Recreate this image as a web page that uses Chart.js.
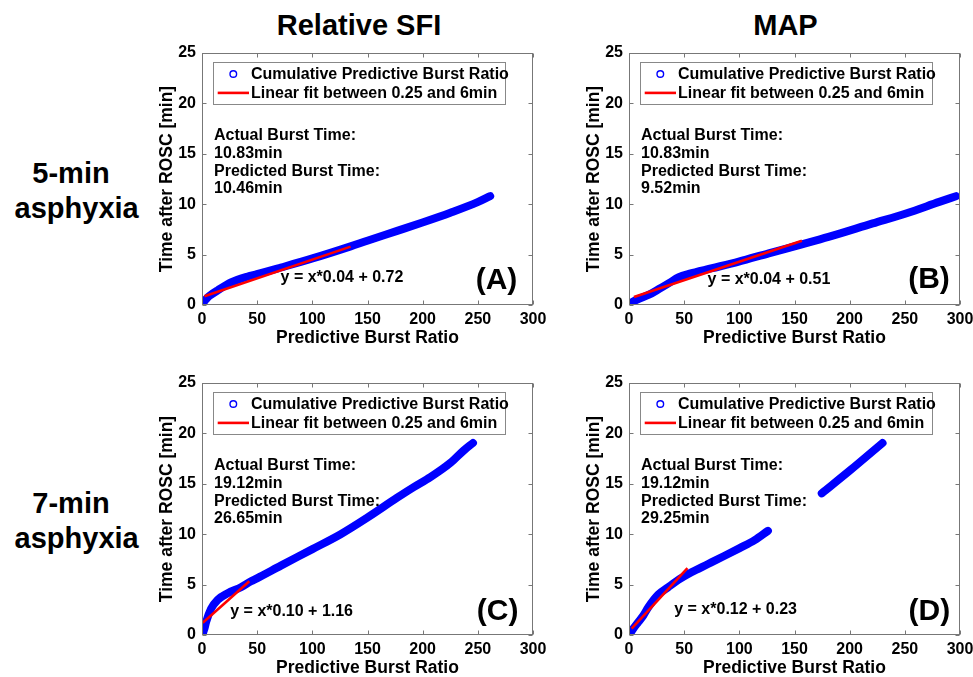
<!DOCTYPE html>
<html><head><meta charset="utf-8">
<script src="https://cdn.jsdelivr.net/npm/chart.js@4.4.1/dist/chart.umd.min.js"></script>
<style>
html,body{margin:0;padding:0;background:#fff;width:973px;height:677px;overflow:hidden;position:relative;font-family:'Liberation Sans',Arial,sans-serif;}
canvas{position:absolute;}
.t{position:absolute;font-weight:bold;font-size:29px;color:#000;white-space:nowrap;line-height:29px;transform:translateX(-50%);}
</style></head><body>
<div class="t" style="left:359px;top:10.5px">Relative SFI</div>
<div class="t" style="left:785.5px;top:10.5px">MAP</div>
<div class="t" style="left:71px;top:158.5px">5-min</div>
<div class="t" style="left:76.7px;top:193.5px">asphyxia</div>
<div class="t" style="left:71px;top:488.5px">7-min</div>
<div class="t" style="left:76.7px;top:523.5px">asphyxia</div>
<canvas id="cA" width="420" height="310" style="left:140px;top:40px"></canvas>
<canvas id="cB" width="406" height="310" style="left:567px;top:40px"></canvas>
<canvas id="cC" width="420" height="310" style="left:140px;top:370px"></canvas>
<canvas id="cD" width="406" height="310" style="left:567px;top:370px"></canvas>
<script>
// ---------- data ----------
const xTickValues = [0, 50, 100, 150, 200, 250, 300];
const yTickValues = [0, 5, 10, 15, 20, 25];
const legendLabels = ['Cumulative Predictive Burst Ratio', 'Linear fit between 0.25 and 6min'];
const xTitle = 'Predictive Burst Ratio';
const yTitle = 'Time after ROSC [min]';

// (A) Relative SFI, 5-min asphyxia
const sfi5X = [0.7, 2.8, 5.2, 8.2, 14.2, 26.3, 41.4, 49.8, 71.5, 100.1, 134.7, 149.8, 176.9, 199.8, 225.1, 249.8, 261.2];
const sfi5Y = [0.13, 0.46, 0.76, 1.02, 1.45, 2.24, 2.83, 3.06, 3.72, 4.62, 5.82, 6.38, 7.35, 8.18, 9.15, 10.2, 10.8];
const sfi5FitX = [2.2, 134.7];
const sfi5FitY = [0.86, 5.79];
const sfi5Notes = ['Actual Burst Time:', '10.83min', 'Predicted Burst Time:', '10.46min'];
const sfi5Eq = 'y = x*0.04 + 0.72';

// (B) MAP, 5-min asphyxia
const map5X = [0, 9.0, 18.1, 27.1, 36.2, 45.2, 54.2, 75.3, 99.5, 126.6, 156.7, 180.8, 220.9, 251.0, 281.2, 296.3];
const map5Y = [0.13, 0.62, 1.02, 1.58, 2.17, 2.76, 3.09, 3.65, 4.30, 5.13, 6.02, 6.75, 8.09, 9.08, 10.23, 10.79];
const map5FitX = [4.5, 156.7];
const map5FitY = [0.79, 6.38];
const map5Notes = ['Actual Burst Time:', '10.83min', 'Predicted Burst Time:', '9.52min'];
const map5Eq = 'y = x*0.04 + 0.51';

// (C) Relative SFI, 7-min asphyxia
const sfi7X = [0.7, 2.2, 3.7, 8.2, 14.2, 23.3, 35.3, 44.4, 49.8, 71.5, 100.1, 125.7, 149.8, 176.9, 191.9, 207.0, 225.1, 237.1, 245.6];
const sfi7Y = [0.13, 0.63, 1.28, 2.60, 3.49, 4.14, 4.74, 5.33, 5.62, 6.88, 8.52, 10.00, 11.64, 13.62, 14.67, 15.66, 17.07, 18.29, 19.05];
const sfi7FitX = [0.7, 42.9];
const sfi7FitY = [1.22, 5.33];
const sfi7Notes = ['Actual Burst Time:', '19.12min', 'Predicted Burst Time:', '26.65min'];
const sfi7Eq = 'y = x*0.10 + 1.16';

// (D) MAP, 7-min asphyxia (two separate segments)
const map7X1 = [0.9, 3.9, 8.4, 13.0, 17.5, 26.5, 35.5, 46.1, 56.6, 71.7, 86.7, 100.3, 113.9, 125.9];
const map7Y1 = [0.13, 0.63, 1.28, 1.94, 2.76, 4.01, 4.74, 5.56, 6.22, 7.04, 7.86, 8.62, 9.41, 10.33];
const map7X2 = [174.7, 200.0, 229.8];
const map7Y2 = [14.05, 16.30, 19.05];
const map7FitX = [2.4, 53.0];
const map7FitY = [0.63, 6.64];
const map7Notes = ['Actual Burst Time:', '19.12min', 'Predicted Burst Time:', '29.25min'];
const map7Eq = 'y = x*0.12 + 0.23';

// ---------- helpers ----------
const FONT = "'Liberation Sans', Arial, sans-serif";
Chart.defaults.font.family = FONT;
Chart.defaults.font.size = 16;
Chart.defaults.font.weight = 'bold';
Chart.defaults.color = '#000';

const pts = (xs, ys) => xs.map((x, i) => ({x, y: ys[i]}));

const blueStyle = {order: 2, borderColor: '#0000ff', backgroundColor: '#0000ff', borderWidth: 8, pointRadius: 0,
  showLine: true, borderCapStyle: 'round', borderJoinStyle: 'round', cubicInterpolationMode: 'monotone'};
const redStyle = {order: 1, borderColor: '#ff0000', backgroundColor: '#ff0000', borderWidth: 2.6, pointRadius: 0, showLine: true};

const framePlugin = {
  id: 'frameAndText',
  afterDatasetsDraw(chart, args, opts) {
    const {ctx, chartArea: a, scales: {x, y}} = chart;
    ctx.save();
    // box
    ctx.strokeStyle = '#777';
    ctx.lineWidth = 1;
    const L = Math.round(a.left) + 0.5, R = Math.round(a.right) - 0.5, T = Math.round(a.top) + 0.5, B = Math.round(a.bottom) - 0.5;
    ctx.strokeRect(L, T, R - L, B - T);
    ctx.beginPath();
    x.ticks.forEach(t => {
      const p = Math.round(x.getPixelForValue(t.value)) + 0.5;
      ctx.moveTo(p, B); ctx.lineTo(p, B - 4);
      ctx.moveTo(p, T); ctx.lineTo(p, T + 4);
    });
    y.ticks.forEach(t => {
      const p = Math.round(y.getPixelForValue(t.value)) + 0.5;
      ctx.moveTo(L, p); ctx.lineTo(L + 4, p);
      ctx.moveTo(R, p); ctx.lineTo(R - 4, p);
    });
    ctx.stroke();

    // legend box
    const lx = a.left + 10.7, ly = a.top + 9.3;
    ctx.fillStyle = '#fff';
    ctx.fillRect(lx, ly, 292, 42);
    ctx.strokeStyle = '#888';
    ctx.strokeRect(Math.round(lx) + 0.5, Math.round(ly) + 0.5, 292, 42);
    ctx.beginPath();
    ctx.strokeStyle = '#0000ff'; ctx.lineWidth = 1.4;
    ctx.arc(lx + 20.6, ly + 11.7, 3.3, 0, Math.PI * 2);
    ctx.stroke();
    ctx.beginPath();
    ctx.strokeStyle = '#ff0000'; ctx.lineWidth = 2.6;
    ctx.moveTo(lx + 5, ly + 30.6); ctx.lineTo(lx + 36.3, ly + 30.6);
    ctx.stroke();
    ctx.fillStyle = '#000';
    ctx.font = 'bold 16px ' + FONT;
    ctx.textBaseline = 'middle';
    ctx.textAlign = 'left';
    ctx.fillText(legendLabels[0], lx + 38.3, ly + 11.9);
    ctx.fillText(legendLabels[1], lx + 38.3, ly + 30.9);

    // notes
    const nx = x.getPixelForValue(opts.notesAt[0]), ny = y.getPixelForValue(opts.notesAt[1]);
    opts.notes.forEach((s, i) => ctx.fillText(s, nx, ny + i * 17.8));
    ctx.fillText(opts.eq, x.getPixelForValue(opts.eqAt[0]), y.getPixelForValue(opts.eqAt[1]));
    ctx.font = 'bold 30px ' + FONT;
    ctx.textAlign = 'center';
    ctx.fillText(opts.letter, x.getPixelForValue(opts.letterAt[0]), y.getPixelForValue(opts.letterAt[1]));
    ctx.restore();
  }
};

function makePanel(id, datasets, padRight, text) {
  new Chart(document.getElementById(id), {
    type: 'scatter',
    data: {datasets},
    plugins: [framePlugin],
    options: {
      responsive: false,
      animation: false,
      devicePixelRatio: 1,
      layout: {padding: {left: 0, top: 13, right: padRight, bottom: 0}},
      plugins: {legend: {display: false}, tooltip: {enabled: false}, frameAndText: text},
      scales: {
        x: {
          type: 'linear', min: 0, max: 300,
          grid: {display: false, drawTicks: false}, border: {display: false},
          afterBuildTicks: s => { s.ticks = xTickValues.map(v => ({value: v})); },
          ticks: {padding: 5, maxRotation: 0, autoSkip: false},
          title: {display: true, text: xTitle, font: {size: 17.5}, padding: {top: 0, bottom: 1}},
          afterFit: s => { s.height = 45; s.paddingLeft = 0; s.paddingRight = 0; }
        },
        y: {
          type: 'linear', min: 0, max: 25,
          grid: {display: false, drawTicks: false}, border: {display: false},
          afterBuildTicks: s => { s.ticks = yTickValues.map(v => ({value: v})); },
          ticks: {padding: 6, autoSkip: false},
          title: {display: true, text: yTitle, font: {size: 17.5}, padding: {top: 17, bottom: 0}},
          afterFit: s => { s.width = 62; s.paddingTop = 0; s.paddingBottom = 0; }
        }
      }
    }
  });
}

makePanel('cA', [
  Object.assign({data: pts(sfi5X, sfi5Y)}, blueStyle),
  Object.assign({data: pts(sfi5FitX, sfi5FitY)}, redStyle)
], 27, {notes: sfi5Notes, notesAt: [10.9, 16.8], eq: sfi5Eq, eqAt: [71.2, 2.76], letter: '(A)', letterAt: [266.9, 2.43]});

makePanel('cB', [
  Object.assign({data: pts(map5X, map5Y)}, blueStyle),
  Object.assign({data: pts(map5FitX, map5FitY)}, redStyle)
], 13, {notes: map5Notes, notesAt: [10.9, 16.8], eq: map5Eq, eqAt: [71.2, 2.5], letter: '(B)', letterAt: [271.9, 2.5]});

makePanel('cC', [
  Object.assign({data: pts(sfi7X, sfi7Y)}, blueStyle),
  Object.assign({data: pts(sfi7FitX, sfi7FitY)}, redStyle)
], 27, {notes: sfi7Notes, notesAt: [10.9, 16.8], eq: sfi7Eq, eqAt: [25.6, 2.34], letter: '(C)', letterAt: [267.9, 2.27]});

makePanel('cD', [
  Object.assign({data: pts(map7X1, map7Y1)}, blueStyle),
  Object.assign({data: pts(map7X2, map7Y2)}, blueStyle),
  Object.assign({data: pts(map7FitX, map7FitY)}, redStyle)
], 13, {notes: map7Notes, notesAt: [10.9, 16.8], eq: map7Eq, eqAt: [41, 2.5], letter: '(D)', letterAt: [272.2, 2.27]});
</script>
</body></html>
